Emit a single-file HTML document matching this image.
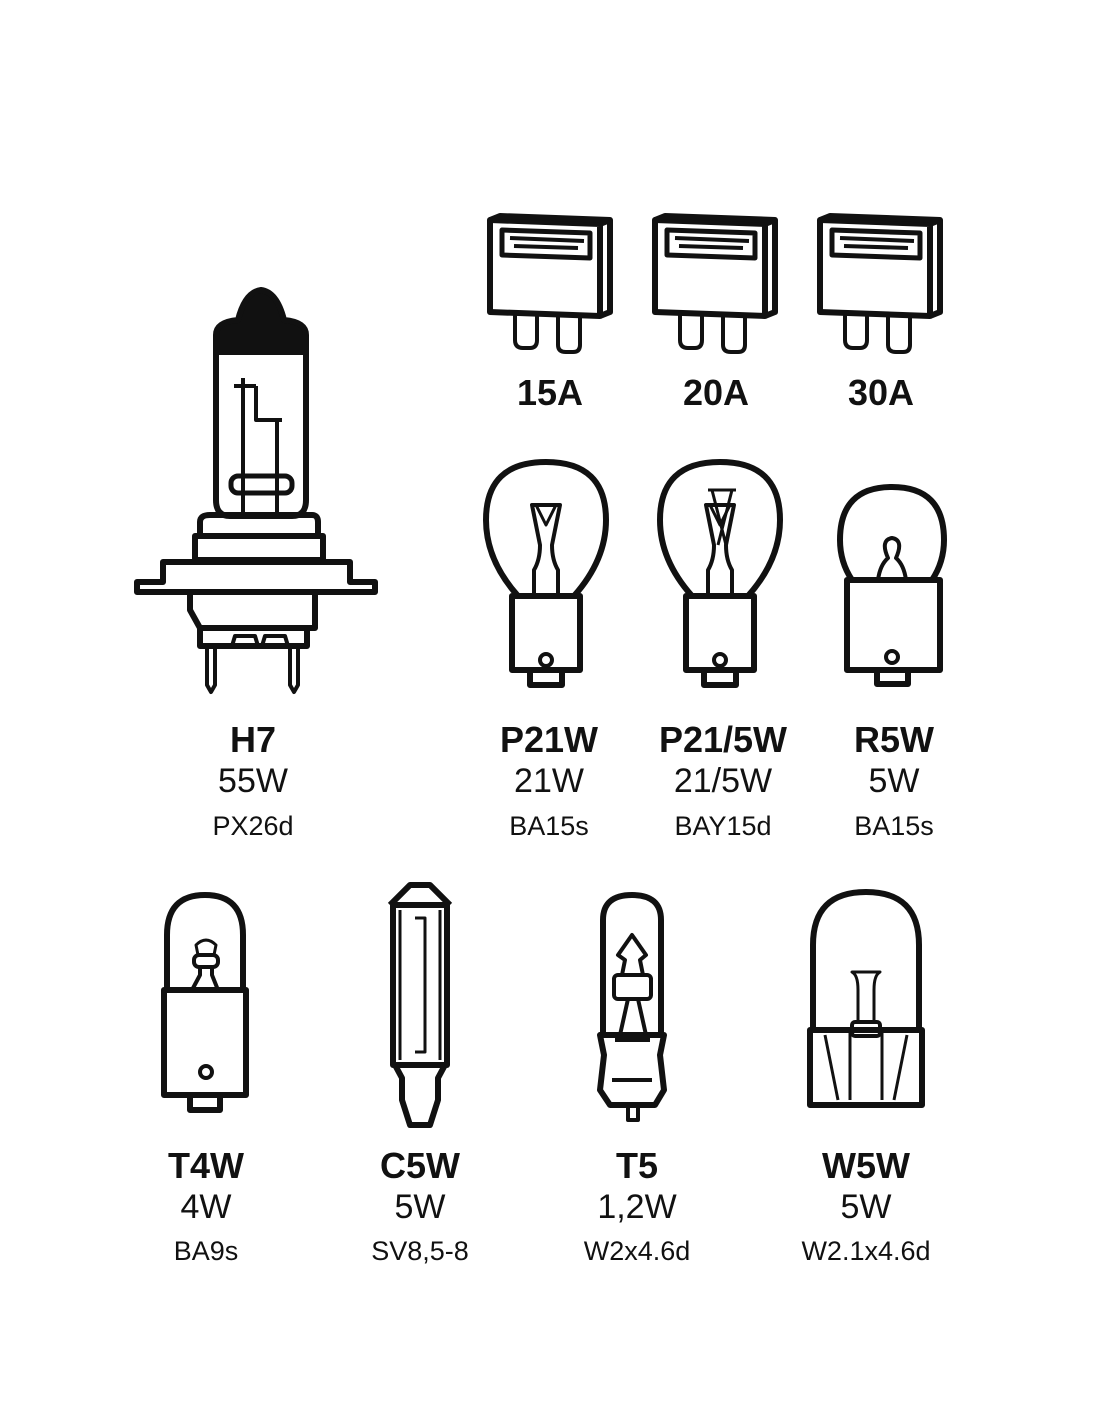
<!DOCTYPE html>
<html><head><style>
html,body{margin:0;padding:0;background:#fff;}
svg{display:block}
text{font-family:"Liberation Sans",sans-serif;fill:#111;text-anchor:middle}
.b{font-weight:bold;font-size:36px}
.w{font-size:34px}
.s{font-size:27px}
</style></head><body>
<svg width="1100" height="1422" viewBox="0 0 1100 1422" xmlns="http://www.w3.org/2000/svg">
<g fill="none" stroke="#111" stroke-width="6" stroke-linejoin="round">
<!-- fuses -->
<g id="fuse">
<path d="M490 220 L600 224 L600 316 L490 312 Z" fill="#fff"/>
<path d="M490 220 L500 216 L610 220 L600 224 M610 220 L610 312 L600 316"/>
<path d="M502 230 L590 233 L590 258 L502 255 Z" stroke-width="5"/>
<path d="M510 238 L584 241 M514 246 L578 248" stroke-width="4"/>
<path d="M515 314 L515 340 Q515 348 523 348 L530 348 Q537 348 537 340 L537 315" stroke-width="4"/>
<path d="M558 316 L558 345 Q558 352 566 352 L573 352 Q580 352 580 345 L580 316" stroke-width="4"/>
</g>
<use href="#fuse" x="165"/>
<use href="#fuse" x="330"/>
<!-- H7 -->
<path d="M216 350 L216 500 Q216 516 230 516 L292 516 Q306 516 306 500 L306 350 Z"/>
<path d="M216 352 L216 335 Q216 322 238 320 Q245 292 261 290 Q277 292 284 320 Q306 322 306 335 L306 352 Z" fill="#111"/>
<rect x="231" y="476" width="61" height="17" rx="7" stroke-width="5"/>
<path d="M243 378 L243 516 M277 420 L277 516 M234 386 L252 386 M256 386 L256 420 L282 420 M248 386 L256 386" stroke-width="4"/>
<path d="M200 536 L200 522 Q200 515 210 515 L312 515 Q318 515 318 522 L318 536 Z M195 536 L323 536 L323 560 L195 560 Z"/>
<path d="M163 582 L163 562 L350 562 L350 582 L375 582 L375 592 L137 592 L137 582 Z"/>
<path d="M190 592 L190 610 L200 628 L315 628 L315 592 M200 628 L200 646 L307 646 L307 628"/>
<path d="M232 646 L235 636 L255 636 L258 646 M262 646 L265 636 L285 636 L288 646" stroke-width="4"/>
<path d="M207 646 L207 685 L211 692 L215 685 L215 646 M290 646 L290 685 L294 692 L298 685 L298 646" stroke-width="4"/>
<!-- P21W -->
<g id="p21">
<path d="M518 596 Q486 560 486 520 Q486 462 546 462 Q606 462 606 520 Q606 560 574 596"/>
<path d="M512 596 L580 596 L580 670 L512 670 Z"/>
<path d="M530 670 L530 685 L562 685 L562 670"/>
<circle cx="546" cy="660" r="6" stroke-width="4"/>
<path d="M534 596 L534 570 Q540 560 540 545 L532 505 L560 505 L552 545 Q552 560 558 570 L558 596" stroke-width="4"/>
<path d="M536 505 L546 525 L556 505" stroke-width="3"/>
</g>
<use href="#p21" x="174"/>
<path d="M708 490 L736 490 M712 490 L726 545 M732 490 L718 545" stroke-width="3"/>
<!-- R5W -->
<path d="M852 580 Q840 562 840 540 Q840 487 892 487 Q944 487 944 540 Q944 562 932 580"/>
<path d="M847 580 L940 580 L940 670 L847 670 Z"/>
<path d="M877 670 L877 684 L908 684 L908 670"/>
<circle cx="892" cy="657" r="6" stroke-width="4"/>
<path d="M878 580 Q880 565 888 558 Q880 540 892 538 Q904 540 896 558 Q904 565 906 580" stroke-width="4"/>
<!-- T4W -->
<path d="M167 990 L167 935 Q167 895 205 895 Q243 895 243 935 L243 990"/>
<path d="M164 990 L246 990 L246 1095 L164 1095 Z"/>
<path d="M190 1095 L190 1110 L220 1110 L220 1095"/>
<circle cx="206" cy="1072" r="6" stroke-width="4"/>
<path d="M192 990 L200 975 L200 965 M212 965 L212 975 L218 990" stroke-width="4"/>
<rect x="194" y="955" width="24" height="12" rx="5" stroke-width="4"/>
<path d="M198 955 L196 945 Q206 935 216 945 L214 955" stroke-width="3"/>
<!-- C5W -->
<path d="M390 905 L400 895 L410 885 L430 885 L440 895 L450 905"/>
<path d="M393 905 L447 905 L447 1065 L393 1065 Z"/>
<path d="M400 910 L400 1060 M440 910 L440 1060 M415 918 L425 918 L425 1052 L415 1052" stroke-width="3"/>
<path d="M395 1065 L402 1078 L402 1100 L410 1125 L430 1125 L438 1100 L438 1078 L445 1065"/>
<!-- T5 -->
<path d="M603 1035 L603 920 Q603 895 632 895 Q661 895 661 920 L661 1035"/>
<path d="M600 1035 L664 1035 L660 1055 L664 1090 L655 1105 L610 1105 L600 1090 L604 1055 Z"/>
<path d="M615 1040 L650 1040 M612 1080 L652 1080 M628 1105 L628 1120 L638 1120 L638 1105" stroke-width="4"/>
<rect x="614" y="975" width="37" height="24" rx="4" stroke-width="4"/>
<path d="M622 975 L625 960 L618 955 L632 935 L646 955 L640 960 L643 975 M628 999 L620 1035 M638 999 L646 1035" stroke-width="4"/>
<!-- W5W -->
<path d="M813 1030 L813 945 Q813 892 866 892 Q919 892 919 945 L919 1030"/>
<path d="M810 1030 L922 1030 L922 1105 L810 1105 Z"/>
<path d="M825 1035 L838 1100 M907 1035 L894 1100 M850 1030 L850 1100 M882 1030 L882 1100" stroke-width="3"/>
<rect x="852" y="1022" width="28" height="14" rx="3" stroke-width="4"/>
<path d="M858 1022 L858 990 Q858 975 852 972 L880 972 Q874 975 874 990 L874 1022" stroke-width="3"/>
</g>
<!-- labels -->
<text class="b" x="550" y="405">15A</text>
<text class="b" x="716" y="405">20A</text>
<text class="b" x="881" y="405">30A</text>
<text class="b" x="253" y="752">H7</text>
<text class="w" x="253" y="792">55W</text>
<text class="s" x="253" y="835">PX26d</text>
<text class="b" x="549" y="752">P21W</text>
<text class="w" x="549" y="792">21W</text>
<text class="s" x="549" y="835">BA15s</text>
<text class="b" x="723" y="752">P21/5W</text>
<text class="w" x="723" y="792">21/5W</text>
<text class="s" x="723" y="835">BAY15d</text>
<text class="b" x="894" y="752">R5W</text>
<text class="w" x="894" y="792">5W</text>
<text class="s" x="894" y="835">BA15s</text>
<text class="b" x="206" y="1178">T4W</text>
<text class="w" x="206" y="1218">4W</text>
<text class="s" x="206" y="1260">BA9s</text>
<text class="b" x="420" y="1178">C5W</text>
<text class="w" x="420" y="1218">5W</text>
<text class="s" x="420" y="1260">SV8,5-8</text>
<text class="b" x="637" y="1178">T5</text>
<text class="w" x="637" y="1218">1,2W</text>
<text class="s" x="637" y="1260">W2x4.6d</text>
<text class="b" x="866" y="1178">W5W</text>
<text class="w" x="866" y="1218">5W</text>
<text class="s" x="866" y="1260">W2.1x4.6d</text>
</svg>
</body></html>
